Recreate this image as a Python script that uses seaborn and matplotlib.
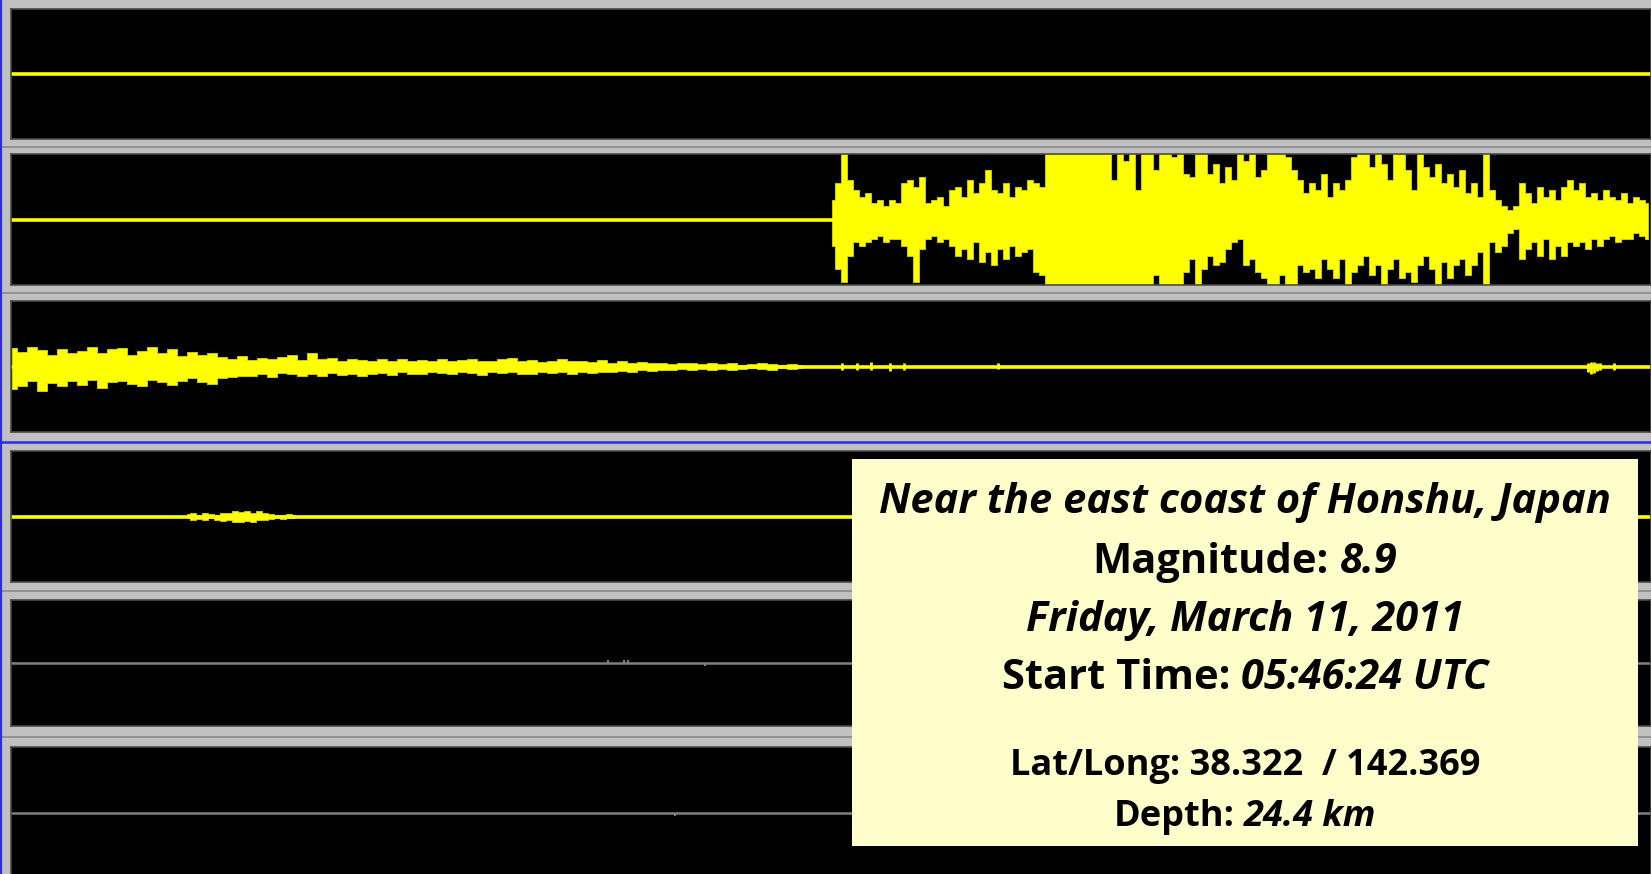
import matplotlib
matplotlib.use("Agg")
import matplotlib.pyplot as plt
import numpy as np
import seaborn as sns
from matplotlib.lines import Line2D
from matplotlib.patches import Rectangle
from matplotlib.transforms import IdentityTransform

sns.set_theme(style="dark")
plt.rcParams["font.family"] = ["Open Sans", "DejaVu Sans"]

# x unit = one screen column of the helicorder window, y = % of full scale
window_end = 1640

# trace 2: main arrival
p2_onset = 821
p2_step = 6
p2_hi = [30, 55, 100, 60, 45, 35, 40, 25, 30, 20,
         30, 25, 55, 60, 50, 65, 25, 30, 35, 20,
         45, 50, 35, 60, 40, 55, 75, 45, 40, 55,
         35, 50, 45, 60, 55, 50, 120, 120, 120, 120,
         120, 120, 120, 120, 120, 120, 120, 60, 120, 90,
         120, 45, 120, 120, 75, 120, 120, 95, 120, 70,
         65, 120, 110, 70, 85, 55, 80, 60, 100, 90,
         120, 65, 75, 120, 110, 120, 95, 75, 60, 40,
         55, 45, 70, 35, 55, 45, 60, 95, 120, 110,
         80, 120, 85, 60, 120, 100, 75, 45, 110, 80,
         65, 85, 55, 70, 50, 75, 40, 55, 35, 120,
         45, 30, 20, 15, 20, 55, 40, 25, 50, 35,
         45, 30, 50, 60, 45, 55, 35, 40, 30, 45,
         35, 30, 40, 25, 35, 30, 25]
p2_lo = [-40, -75, -95, -55, -35, -40, -35, -30, -25, -35,
         -30, -30, -40, -55, -95, -45, -30, -25, -35, -30,
         -40, -55, -45, -60, -35, -65, -50, -70, -45, -60,
         -40, -55, -50, -45, -80, -85, -120, -120, -120, -120,
         -120, -120, -120, -120, -120, -120, -120, -120, -120, -120,
         -120, -120, -120, -120, -85, -120, -120, -120, -120, -80,
         -60, -120, -75, -55, -70, -65, -45, -35, -30, -70,
         -60, -80, -90, -100, -120, -85, -120, -120, -70, -80,
         -75, -90, -60, -75, -90, -60, -100, -80, -70, -55,
         -85, -70, -110, -75, -60, -90, -80, -95, -70, -55,
         -75, -100, -65, -90, -70, -60, -85, -70, -50, -110,
         -35, -50, -40, -20, -15, -60, -45, -35, -55, -30,
         -60, -40, -55, -35, -40, -35, -45, -30, -40, -30,
         -25, -35, -30, -30, -20, -25, -30]

# trace 3: decaying coda
p3_start = 1
p3_step = 10
p3_hi = [28, 22, 30, 25, 18, 27, 20, 24, 30, 21,
         26, 28, 18, 24, 30, 20, 26, 16, 22, 17,
         20, 14, 12, 16, 10, 13, 11, 14, 17, 10,
         20, 11, 13, 9, 12, 10, 8, 11, 9, 12,
         8, 10, 9, 11, 8, 10, 12, 8, 9, 11,
         13, 8, 10, 7, 9, 11, 8, 9, 7, 10,
         6, 8, 6, 7, 5, 6, 4, 5, 6, 4,
         5, 4, 5, 3, 4, 5, 4, 3, 4, 3]
p3_lo = [-35, -30, -22, -38, -25, -30, -22, -28, -20, -33,
         -24, -22, -26, -30, -20, -24, -28, -22, -18, -24,
         -26, -18, -16, -14, -15, -12, -16, -10, -12, -14,
         -11, -15, -10, -13, -11, -14, -12, -10, -13, -9,
         -11, -12, -8, -10, -12, -9, -10, -13, -8, -10,
         -9, -11, -12, -9, -10, -8, -11, -9, -10, -8,
         -9, -7, -8, -6, -7, -5, -6, -4, -5, -4,
         -6, -4, -5, -4, -3, -4, -5, -3, -4, -3]
p3_spike_t = [831, 846, 860, 879, 893, 987, 1577, 1580, 1583, 1586, 1589, 1603]
p3_spike_hi = [6, 5, 7, 5, 6, 5, 6, 7, 7, 6, 5, 6]
p3_spike_lo = [-5, -6, -5, -7, -5, -4, -8, -12, -10, -7, -5, -6]

# trace 4: small local event
p4_start = 176
p4_step = 6
p4_hi = [4, 5, 3, 6, 4, 3, 6, 5, 8, 7, 9, 6, 8, 5, 4, 3, 3, 4, 3]
p4_lo = [-3, -5, -4, -6, -3, -5, -7, -6, -9, -8, -7, -8, -6, -5, -4, -3, -4, -3, -3]

# traces 5 and 6: quiet channels
p5_spike_t = [597, 613, 617, 694]
p5_spike_hi = [5, 5, 5, 0]
p5_spike_lo = [0, 0, 0, -5]
p6_spike_t = [664]
p6_spike_hi = [0]
p6_spike_lo = [-5]

# event info
location = "Near the east coast of Honshu, Japan"
magnitude = "8.9"
date = "Friday, March 11, 2011"
start_time = "05:46:24 UTC"
lat_long = "38.322  / 142.369"
depth = "24.4 km"

W, H, DPI = 1651, 874, 100
YELLOW = "#FFFF00"
GREY_TRACE = "#808080"

fig = plt.figure(figsize=(W / DPI, H / DPI), dpi=DPI, facecolor="#C0C0C0")

panels_px = [(9, 139), (154, 285), (301, 432), (451, 582), (600, 726), (747, 878)]
axes = []
for top, bot in panels_px:
    ax = fig.add_axes([11 / W, 1 - bot / H, (W - 11) / W, (bot - top) / H])
    ax.set_facecolor("black")
    ax.set_xlim(0, window_end)
    ax.set_ylim(-100, 100)
    ax.set_xticks([])
    ax.set_yticks([])
    ax.grid(False)
    for sp in ax.spines.values():
        sp.set_color("#4a4a4a")
        sp.set_linewidth(1.2)
    axes.append(ax)

# separators
for y in [146.5, 293, 591, 736.5]:
    fig.add_artist(Line2D([0, 1], [1 - y / H, 1 - y / H], color="#8a8a8a", lw=1.2))
fig.add_artist(Line2D([0, 1], [1 - 441.5 / H, 1 - 441.5 / H], color="#2a2ae8", lw=1.8))
fig.add_artist(Line2D([0.6 / W, 0.6 / W], [0, 1], color="#2a2ae8", lw=1.6))


def baseline(ax, x0, x1, color, lw):
    sns.lineplot(x=[x0, x1], y=[0, 0], ax=ax, color=color, linewidth=lw)


def envelope(ax, start, step, hi, lo, color=YELLOW):
    t = start + step * np.arange(len(hi))
    ax.fill_between(t, lo, hi, step="mid", color=color, linewidth=0.6,
                    edgecolor="#d8d800")


# trace 1
baseline(axes[0], 0, window_end, YELLOW, 2.6)

# trace 2
baseline(axes[1], 0, p2_onset + 3, YELLOW, 2.6)
envelope(axes[1], p2_onset, p2_step, p2_hi, p2_lo)

# trace 3
baseline(axes[2], 0, window_end, YELLOW, 2.6)
envelope(axes[2], p3_start, p3_step, p3_hi, p3_lo)
axes[2].vlines(p3_spike_t, p3_spike_lo, p3_spike_hi, color=YELLOW, lw=2)

# trace 4
baseline(axes[3], 0, window_end, YELLOW, 2.6)
envelope(axes[3], p4_start, p4_step, p4_hi, p4_lo)

# traces 5, 6
baseline(axes[4], 0, window_end, GREY_TRACE, 1.8)
axes[4].vlines(p5_spike_t, p5_spike_lo, p5_spike_hi, color=GREY_TRACE, lw=1.5)
baseline(axes[5], 0, window_end, GREY_TRACE, 1.8)
axes[5].vlines(p6_spike_t, p6_spike_lo, p6_spike_hi, color=GREY_TRACE, lw=1.5)

for ax in axes:
    if ax.get_legend() is not None:
        ax.get_legend().remove()
    ax.set_xlabel("")
    ax.set_ylabel("")

# info box
box_l, box_t, box_r, box_b = 852, 459, 1638, 846
fig.add_artist(Rectangle((box_l / W, 1 - box_b / H), (box_r - box_l) / W,
                         (box_b - box_t) / H, transform=fig.transFigure,
                         facecolor="#FFFFCC", edgecolor="none", zorder=5))

renderer = fig.canvas.get_renderer()
cx = (box_l + box_r) / 2


def centered_line(parts, baseline_px, size):
    items = []
    for s, italic in parts:
        items.append(fig.text(0, H - baseline_px, s, transform=IdentityTransform(),
                              fontsize=size, fontweight="bold",
                              fontstyle="italic" if italic else "normal",
                              ha="left", va="baseline", color="black", zorder=6))
    widths = [t.get_window_extent(renderer).width for t in items]
    gap = 0.26 * size * DPI / 72
    total = sum(widths) + gap * (len(items) - 1)
    x = cx - total / 2
    for t, w in zip(items, widths):
        t.set_x(x)
        x += w + gap


centered_line([(location, True)], 513, 30)
centered_line([("Magnitude:", False), (magnitude, True)], 573, 30)
centered_line([(date, True)], 631, 30)
centered_line([("Start Time:", False), (start_time, True)], 689, 30)
centered_line([("Lat/Long: " + lat_long, False)], 775, 26)
centered_line([("Depth:", False), (depth, True)], 826, 26)

fig.savefig("out.png", dpi=DPI, facecolor=fig.get_facecolor())
